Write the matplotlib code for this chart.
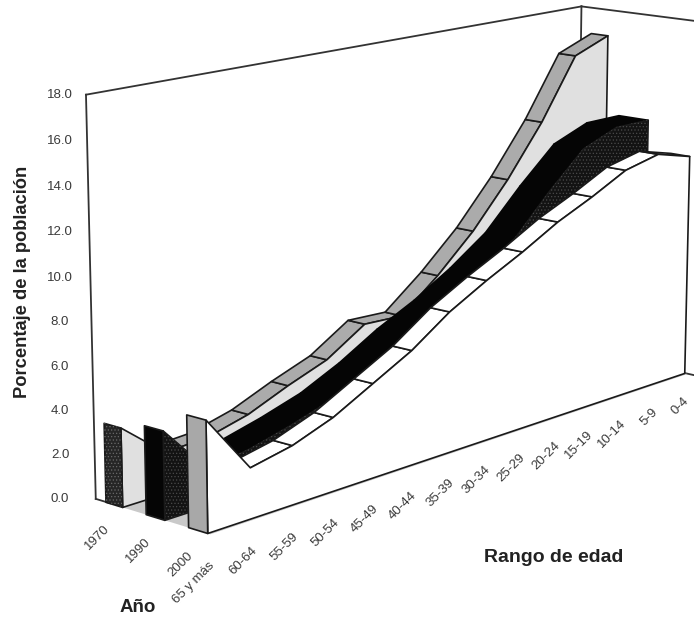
import numpy as np
import matplotlib
matplotlib.use('Agg')
import matplotlib.pyplot as plt
from mpl_toolkits.mplot3d import proj3d
from mpl_toolkits.mplot3d.art3d import Poly3DCollection

plt.rcParams['font.family'] = ['Liberation Sans', 'DejaVu Sans']
plt.rcParams['hatch.linewidth'] = 0.5

edades = ['65 y más', '60-64', '55-59', '50-54', '45-49', '40-44', '35-39', '30-34',
          '25-29', '20-24', '15-19', '10-14', '5-9', '0-4']
anios = ['1970', '1990', '2000']
v1970 = [3.6, 1.9, 2.0, 2.5, 3.3, 4.0, 5.2, 5.1, 6.6, 8.35, 10.5, 13.0, 16.0, 16.7]
v1990 = [4.0, 1.7, 2.0, 2.5, 3.1, 4.0, 5.1, 6.0, 7.1, 8.4, 10.3, 12.0, 12.7, 12.7]
v2000 = [5.0, 2.3, 2.7, 3.4, 4.4, 5.4, 6.7, 7.7, 8.6, 9.6, 10.4, 11.3, 11.7, 11.2]
yticks = [0, 2, 4, 6, 8, 10, 12, 14, 16, 18]

W, H = 694, 618
S = 600.0
CLEAR = (0, 0, 0, 0)

fig = plt.figure(figsize=(W / 100, H / 100), dpi=100)
ax = fig.add_subplot(projection='3d')
ax.set_xlim(0, 13)
ax.set_ylim(0, 3)
ax.set_zlim(0, 18)
# camera fitted to the corners of the box in the reference
cx, cy = 403.102, 254.068
ax.view_init(13.1887, -138.3249, -0.0643)
ax.set_proj_type('persp', focal_length=np.exp(-0.0867))
ax.set_box_aspect((np.exp(1.6883), np.exp(0.1094), np.exp(1.0590)), zoom=np.exp(0.3014))
ax.set_position([(cx - S / 2) / W, (H - cy - S / 2) / H, S / W, S / H])
ax.apply_aspect()
ax.set_axis_off()
ax.computed_zorder = False


def poly(verts, fc, z, ec='#1a1a1a', lw=1.2, hatch=None):
    pc = Poly3DCollection([verts], facecolors=[fc], edgecolors=[ec], linewidths=lw, zorder=z, hatch=hatch)
    ax.add_collection3d(pc)
    pc.set_clip_on(False)


def serie(v, yf, yb, ycap, cap, front, top, z, band_ec='#1a1a1a', hatch_front=None, hatch_cap=None):
    n = len(v)
    # the first step falls away from the viewer, so its band is hidden
    for i in range(1, n - 1):
        poly([(i, yf, v[i]), (i + 1, yf, v[i + 1]), (i + 1, yb, v[i + 1]), (i, yb, v[i])], top, z, ec=band_ec)
    cara = [(0, yf, 0)] + [(i, yf, v[i]) for i in range(n)] + [(n - 1, yf, 0)]
    poly(cara, front, z + 0.1)
    if hatch_front:
        poly(cara, CLEAR, z + 0.11, ec='#4a4a4a', lw=0, hatch=hatch_front)
    capa = [(0, yf, 0), (0, yf, v[0]), (0, ycap, v[0]), (0, ycap, 0)]
    poly(capa, cap, z + 0.2)
    if hatch_cap:
        poly(capa, CLEAR, z + 0.21, ec='#6a6a6a', lw=0, hatch=hatch_cap)


# walls and floor edges
for a, b in [((0, 3, 0), (0, 3, 18)), ((0, 3, 18), (13, 3, 18)), ((13, 3, 18), (13, -0.3, 18)),
             ((13, 3, 18), (13, 3, 0)), ((13, -0.3, 0), (13, 0, 0)), ((0, 3, 0), (0, 2.6, 0))]:
    ax.plot(*zip(a, b), color='#333333', lw=1.3, zorder=1, clip_on=False)

# shadows on the floor
for y0, y1 in [(1.63, 2.27), (0.5, 1.13), (-0.07, 0.0)]:
    poly([(0, y0, 0), (13, y0, 0), (13, y1, 0), (0, y1, 0)], '#c9c9c9', 1.5, ec='#c9c9c9', lw=0)

serie(v1970, 2.27, 2.73, 2.73, '#262626', '#e0e0e0', '#ababab', 2, hatch_cap='.....')
serie(v1990, 1.13, 1.93, 1.63, '#050505', '#131313', '#050505', 3, band_ec='#050505', hatch_front='.....')
serie(v2000, 0.0, 0.5, 0.5, '#a8a8a8', '#ffffff', '#ffffff', 4)

M = ax.get_proj()


def fig_xy(x, y, z):
    x2, y2, _ = proj3d.proj_transform(x, y, z, M)
    px, py = ax.transData.transform((x2, y2))
    return px / W, py / H


# tick labels
for i, e in enumerate(edades):
    fx, fy = fig_xy(i + 0.1, 0, -1.45)
    fig.text(fx, fy, e, rotation=45, ha='right', va='center', rotation_mode='anchor',
             fontsize=9.5, color='#3a3a3a')
for a, ymid in zip(anios, [2.5, 1.38, 0.25]):
    fx, fy = fig_xy(-0.15, ymid, -0.95)
    fig.text(fx, fy, a, rotation=45, ha='right', va='center', rotation_mode='anchor',
             fontsize=9.5, color='#3a3a3a')
for t in yticks:
    _, fy = fig_xy(0, 3, t)
    fig.text(60 / W, fy, '%.1f' % t, ha='center', va='center', fontsize=9.5, color='#3a3a3a')

fig.text(23 / W, 1 - 282 / H, 'Porcentaje de la población', rotation=90, ha='center', va='center',
         fontsize=13.2, fontweight='bold', color='#222222')
fig.text(554 / W, 1 - 557 / H, 'Rango de edad', ha='center', va='center',
         fontsize=14, fontweight='bold', color='#222222')
fig.text(138 / W, 1 - 607 / H, 'Año', ha='center', va='center',
         fontsize=13.5, fontweight='bold', color='#222222')

fig.savefig('out.png', dpi=100)
